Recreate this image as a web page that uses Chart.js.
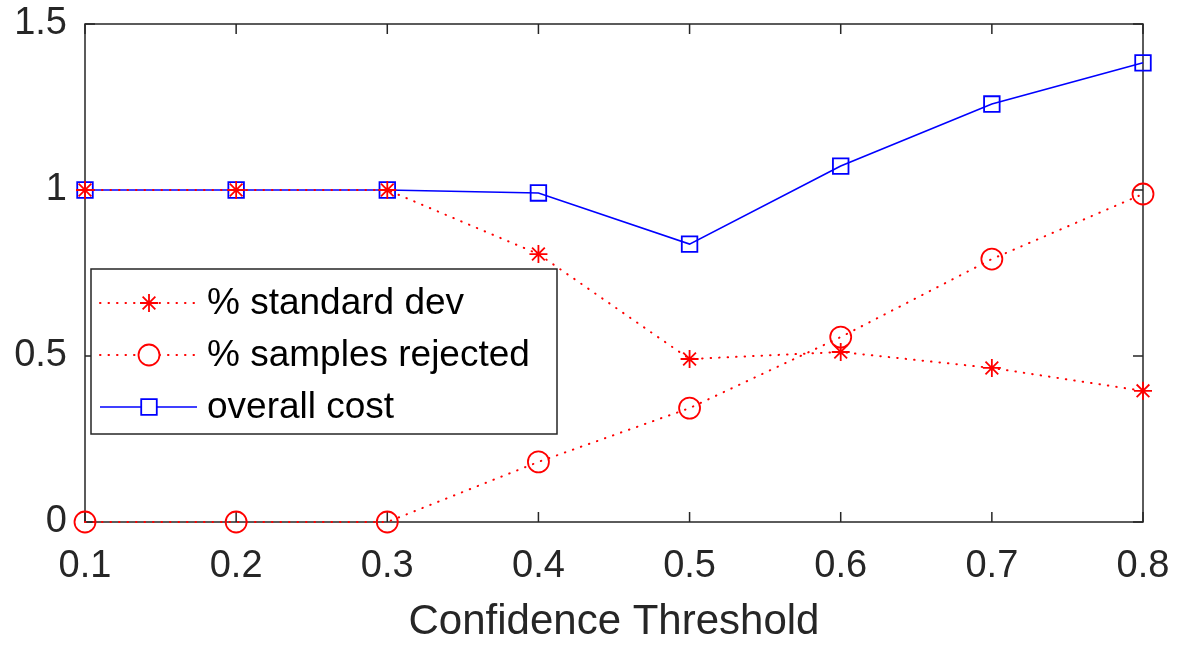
<!DOCTYPE html>
<html>
<head>
<meta charset="utf-8">
<script src="https://cdn.jsdelivr.net/npm/chart.js@4.4.0/dist/chart.umd.min.js"></script>
<style>
  html, body { margin: 0; padding: 0; background: #fff; }
  #wrap { width: 1183px; height: 645px; }
</style>
</head>
<body>
<div id="wrap"><canvas id="myChart"></canvas></div>
<script>
// data
var thresholds = ['0.1', '0.2', '0.3', '0.4', '0.5', '0.6', '0.7', '0.8'];
var stdDev = [1, 1, 1, 0.807, 0.491, 0.512, 0.464, 0.395];
var rejected = [0, 0, 0, 0.181, 0.343, 0.557, 0.792, 0.988];
var overallCost = [1, 1, 1, 0.991, 0.837, 1.072, 1.259, 1.383];
var yTicks = [0, 0.5, 1, 1.5];

var axisColor = '#262626';
var fontFam = 'Arial, "Liberation Sans", Helvetica, sans-serif';

// matlab style box with inward ticks
var boxPlugin = {
    id: 'box',
    beforeDatasetsDraw: function(chart) {
        var ctx = chart.ctx, a = chart.chartArea;
        var xs = chart.scales.x, ys = chart.scales.y;
        var tl = 10;
        ctx.save();
        ctx.strokeStyle = axisColor;
        ctx.lineWidth = 1.5;
        ctx.strokeRect(a.left, a.top, a.right - a.left, a.bottom - a.top);
        ctx.beginPath();
        for (var i = 0; i < thresholds.length; i++) {
            var px = xs.getPixelForValue(i);
            ctx.moveTo(px, a.bottom); ctx.lineTo(px, a.bottom - tl);
            ctx.moveTo(px, a.top); ctx.lineTo(px, a.top + tl);
        }
        for (var j = 0; j < yTicks.length; j++) {
            var py = ys.getPixelForValue(yTicks[j]);
            ctx.moveTo(a.left, py); ctx.lineTo(a.left + tl, py);
            ctx.moveTo(a.right, py); ctx.lineTo(a.right - tl, py);
        }
        ctx.stroke();
        ctx.restore();
    }
};

// legend box like the original
var legendPlugin = {
    id: 'boxLegend',
    afterDatasetsDraw: function(chart) {
        var ctx = chart.ctx;
        var x0 = 91, y0 = 269, w = 466, h = 165;
        ctx.save();
        ctx.fillStyle = '#fff';
        ctx.fillRect(x0, y0, w, h);
        ctx.strokeStyle = axisColor;
        ctx.lineWidth = 1.5;
        ctx.strokeRect(x0, y0, w, h);
        chart.data.datasets.forEach(function(ds, i) {
            var cy = y0 + 34 + i * 52;
            ctx.strokeStyle = ds.borderColor;
            ctx.lineWidth = ds.borderWidth;
            ctx.lineCap = ds.borderCapStyle || 'butt';
            ctx.setLineDash(ds.borderDash || []);
            ctx.beginPath();
            ctx.moveTo(100, cy); ctx.lineTo(197, cy);
            ctx.stroke();
            ctx.setLineDash([]);
            ctx.lineCap = 'butt';
            ctx.lineWidth = ds.pointBorderWidth;
            ctx.strokeStyle = ds.pointBorderColor;
            ctx.fillStyle = '#fff';
            Chart.helpers.drawPoint(ctx, {
                pointStyle: ds.pointStyle,
                radius: ds.pointRadius,
                borderWidth: ds.pointBorderWidth,
                rotation: 0
            }, 149, cy);
            ctx.fillStyle = '#000';
            ctx.font = '37px ' + fontFam;
            ctx.textBaseline = 'middle';
            ctx.textAlign = 'left';
            ctx.fillText(ds.label, 207, cy + 1);
        });
        ctx.restore();
    }
};

const ctx = document.getElementById('myChart');
const myChart = new Chart(ctx, {
    type: 'line',
    data: {
        labels: thresholds,
        datasets: [{
            label: '% standard dev',
            data: stdDev,
            borderColor: '#ff0000',
            backgroundColor: 'rgba(0,0,0,0)',
            borderWidth: 2,
            borderDash: [0.5, 8],
            borderCapStyle: 'round',
            pointStyle: 'star',
            pointRadius: 9,
            pointBorderWidth: 1.8,
            pointBorderColor: '#ff0000',
            clip: false
        }, {
            label: '% samples rejected',
            data: rejected,
            borderColor: '#ff0000',
            backgroundColor: 'rgba(0,0,0,0)',
            borderWidth: 2,
            borderDash: [0.5, 8],
            borderCapStyle: 'round',
            pointStyle: 'circle',
            pointRadius: 10.5,
            pointBorderWidth: 1.8,
            pointBorderColor: '#ff0000',
            clip: false
        }, {
            label: 'overall cost',
            data: overallCost,
            borderColor: '#0000ff',
            backgroundColor: 'rgba(0,0,0,0)',
            borderWidth: 1.6,
            pointStyle: 'rect',
            pointRadius: 11,
            pointBorderWidth: 1.8,
            pointBorderColor: '#0000ff',
            clip: false
        }]
    },
    options: {
        responsive: true,
        maintainAspectRatio: false,
        animation: false,
        layout: { padding: { top: 24, right: 40, left: 0, bottom: 0 } },
        plugins: {
            legend: { display: false },
            tooltip: { enabled: false }
        },
        elements: { line: { tension: 0 } },
        scales: {
            x: {
                type: 'category',
                offset: false,
                grid: { display: false, drawTicks: false },
                border: { display: false },
                ticks: { color: axisColor, font: { size: 38, family: fontFam }, padding: 22, maxRotation: 0 },
                title: { display: true, text: 'Confidence Threshold', color: axisColor, font: { size: 42, family: fontFam }, padding: { top: 0, bottom: -3 } },
                afterFit: function(s) { s.height = 123; s.paddingLeft = 0; s.paddingRight = 0; }
            },
            y: {
                min: 0,
                max: 1.5,
                grid: { display: false, drawTicks: false },
                border: { display: false },
                afterBuildTicks: function(s) { s.ticks = yTicks.map(function(v) { return { value: v }; }); },
                ticks: {
                    color: axisColor,
                    font: { size: 38, family: fontFam },
                    padding: 18,
                    callback: function(v) { return String(v); }
                },
                afterFit: function(s) { s.width = 85; s.paddingTop = 0; s.paddingBottom = 0; }
            }
        }
    },
    plugins: [boxPlugin, legendPlugin]
});
</script>
</body>
</html>
